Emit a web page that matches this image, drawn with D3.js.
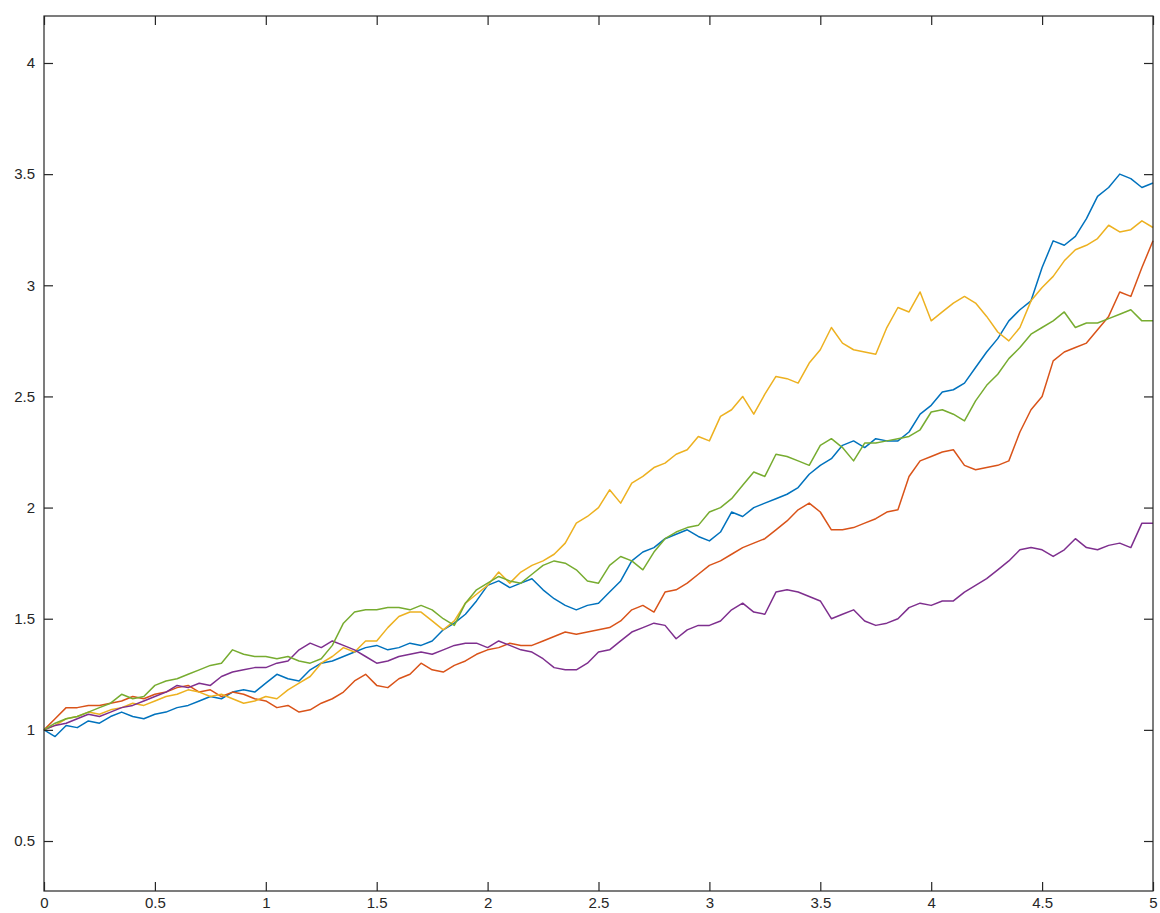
<!DOCTYPE html>
<html>
<head>
<meta charset="utf-8">
<script src="https://cdn.jsdelivr.net/npm/d3@7"></script>
<style>
  html, body { margin: 0; padding: 0; background: #ffffff; }
  svg { display: block; }
  .tick text { font-family: "Liberation Sans", Arial, sans-serif; font-size: 15px; fill: #262626; }
</style>
</head>
<body>
<svg id="chart" width="1160" height="913"></svg>
<script>
// Five simulated price paths sampled every 0.05 time units on [0, 5]
const blue = [
  1.00,0.97,1.02,1.01,1.04,1.03,1.06,1.08,1.06,1.05,
  1.07,1.08,1.10,1.11,1.13,1.15,1.14,1.17,1.18,1.17,
  1.21,1.25,1.23,1.22,1.27,1.30,1.31,1.33,1.35,1.37,
  1.38,1.36,1.37,1.39,1.38,1.40,1.45,1.48,1.52,1.58,
  1.65,1.67,1.64,1.66,1.68,1.63,1.59,1.56,1.54,1.56,
  1.57,1.62,1.67,1.76,1.80,1.82,1.86,1.88,1.90,1.87,
  1.85,1.89,1.98,1.96,2.00,2.02,2.04,2.06,2.09,2.15,
  2.19,2.22,2.28,2.30,2.27,2.31,2.30,2.30,2.34,2.42,
  2.46,2.52,2.53,2.56,2.63,2.70,2.76,2.84,2.89,2.93,
  3.08,3.20,3.18,3.22,3.30,3.40,3.44,3.50,3.48,3.44,
  3.46
];
const orange = [
  1.00,1.05,1.10,1.10,1.11,1.11,1.12,1.13,1.15,1.14,
  1.16,1.17,1.19,1.20,1.17,1.18,1.15,1.17,1.16,1.14,
  1.13,1.10,1.11,1.08,1.09,1.12,1.14,1.17,1.22,1.25,
  1.20,1.19,1.23,1.25,1.30,1.27,1.26,1.29,1.31,1.34,
  1.36,1.37,1.39,1.38,1.38,1.40,1.42,1.44,1.43,1.44,
  1.45,1.46,1.49,1.54,1.56,1.53,1.62,1.63,1.66,1.70,
  1.74,1.76,1.79,1.82,1.84,1.86,1.90,1.94,1.99,2.02,
  1.98,1.90,1.90,1.91,1.93,1.95,1.98,1.99,2.14,2.21,
  2.23,2.25,2.26,2.19,2.17,2.18,2.19,2.21,2.34,2.44,
  2.50,2.66,2.70,2.72,2.74,2.80,2.86,2.97,2.95,3.08,
  3.20
];
const yellow = [
  1.00,1.02,1.05,1.06,1.08,1.07,1.09,1.10,1.12,1.11,
  1.13,1.15,1.16,1.18,1.17,1.15,1.16,1.14,1.12,1.13,
  1.15,1.14,1.18,1.21,1.24,1.30,1.33,1.37,1.35,1.40,
  1.40,1.46,1.51,1.53,1.53,1.49,1.45,1.49,1.57,1.61,
  1.65,1.71,1.66,1.71,1.74,1.76,1.79,1.84,1.93,1.96,
  2.00,2.08,2.02,2.11,2.14,2.18,2.20,2.24,2.26,2.32,
  2.30,2.41,2.44,2.50,2.42,2.51,2.59,2.58,2.56,2.65,
  2.71,2.81,2.74,2.71,2.70,2.69,2.81,2.90,2.88,2.97,
  2.84,2.88,2.92,2.95,2.92,2.86,2.79,2.75,2.81,2.93,
  2.99,3.04,3.11,3.16,3.18,3.21,3.27,3.24,3.25,3.29,
  3.26
];
const purple = [
  1.00,1.02,1.03,1.05,1.07,1.06,1.08,1.10,1.11,1.13,
  1.15,1.17,1.20,1.19,1.21,1.20,1.24,1.26,1.27,1.28,
  1.28,1.30,1.31,1.36,1.39,1.37,1.40,1.38,1.36,1.33,
  1.30,1.31,1.33,1.34,1.35,1.34,1.36,1.38,1.39,1.39,
  1.37,1.40,1.38,1.36,1.35,1.32,1.28,1.27,1.27,1.30,
  1.35,1.36,1.40,1.44,1.46,1.48,1.47,1.41,1.45,1.47,
  1.47,1.49,1.54,1.57,1.53,1.52,1.62,1.63,1.62,1.60,
  1.58,1.50,1.52,1.54,1.49,1.47,1.48,1.50,1.55,1.57,
  1.56,1.58,1.58,1.62,1.65,1.68,1.72,1.76,1.81,1.82,
  1.81,1.78,1.81,1.86,1.82,1.81,1.83,1.84,1.82,1.93,
  1.93
];
const green = [
  1.00,1.03,1.05,1.06,1.08,1.10,1.12,1.16,1.14,1.15,
  1.20,1.22,1.23,1.25,1.27,1.29,1.30,1.36,1.34,1.33,
  1.33,1.32,1.33,1.31,1.30,1.32,1.38,1.48,1.53,1.54,
  1.54,1.55,1.55,1.54,1.56,1.54,1.50,1.47,1.57,1.63,
  1.66,1.69,1.67,1.66,1.70,1.74,1.76,1.75,1.72,1.67,
  1.66,1.74,1.78,1.76,1.72,1.80,1.86,1.89,1.91,1.92,
  1.98,2.00,2.04,2.10,2.16,2.14,2.24,2.23,2.21,2.19,
  2.28,2.31,2.27,2.21,2.29,2.29,2.30,2.31,2.32,2.35,
  2.43,2.44,2.42,2.39,2.48,2.55,2.60,2.67,2.72,2.78,
  2.81,2.84,2.88,2.81,2.83,2.83,2.85,2.87,2.89,2.84,
  2.84
];

const seriesList = [blue, orange, yellow, purple, green];
const seriesColors = ["#0072BD", "#D95319", "#EDB120", "#7E2F8E", "#77AC30"];

const timeStep = 0.05;
const xTicks = [0, 0.5, 1, 1.5, 2, 2.5, 3, 3.5, 4, 4.5, 5];
const yTicks = [0.5, 1, 1.5, 2, 2.5, 3, 3.5, 4];

const frame = { left: 44, top: 16, right: 1153, bottom: 891 };

const svg = d3.select("#chart");

const x = d3.scaleLinear().domain([0, 5]).range([frame.left, frame.right]);
const y = d3.scaleLinear().domain([0.2751, 4.2114]).range([frame.bottom, frame.top]);

const fmt = d => String(d);
const tickLen = 9;
const axisColor = "#262626";

// Lines
const line = d3.line()
  .x((d, i) => x(i * timeStep))
  .y(d => y(d));

const plot = svg.append("g");
seriesList.forEach((vals, k) => {
  plot.append("path")
    .datum(vals)
    .attr("fill", "none")
    .attr("stroke", seriesColors[k])
    .attr("stroke-width", 1.5)
    .attr("stroke-linejoin", "round")
    .attr("d", line);
});

// Axes with inward ticks on all four sides
function styleAxis(g) {
  g.select(".domain").remove();
  g.selectAll(".tick line").attr("stroke", axisColor).attr("stroke-width", 1.2);
}

svg.append("g")
  .attr("transform", `translate(0,${frame.bottom})`)
  .call(d3.axisBottom(x).tickValues(xTicks).tickFormat(fmt).tickSizeInner(-tickLen).tickSizeOuter(0).tickPadding(6))
  .call(styleAxis);

svg.append("g")
  .attr("transform", `translate(${frame.left},0)`)
  .call(d3.axisLeft(y).tickValues(yTicks).tickFormat(fmt).tickSizeInner(-tickLen).tickSizeOuter(0).tickPadding(9))
  .call(styleAxis);

svg.append("g")
  .attr("transform", `translate(0,${frame.top})`)
  .call(d3.axisTop(x).tickValues(xTicks).tickFormat("").tickSizeInner(-tickLen).tickSizeOuter(0))
  .call(styleAxis);

svg.append("g")
  .attr("transform", `translate(${frame.right},0)`)
  .call(d3.axisRight(y).tickValues(yTicks).tickFormat("").tickSizeInner(-tickLen).tickSizeOuter(0))
  .call(styleAxis);

// Box around the plotting area
svg.append("rect")
  .attr("x", frame.left)
  .attr("y", frame.top)
  .attr("width", frame.right - frame.left)
  .attr("height", frame.bottom - frame.top)
  .attr("fill", "none")
  .attr("stroke", axisColor)
  .attr("stroke-width", 1.2);
</script>
</body>
</html>
